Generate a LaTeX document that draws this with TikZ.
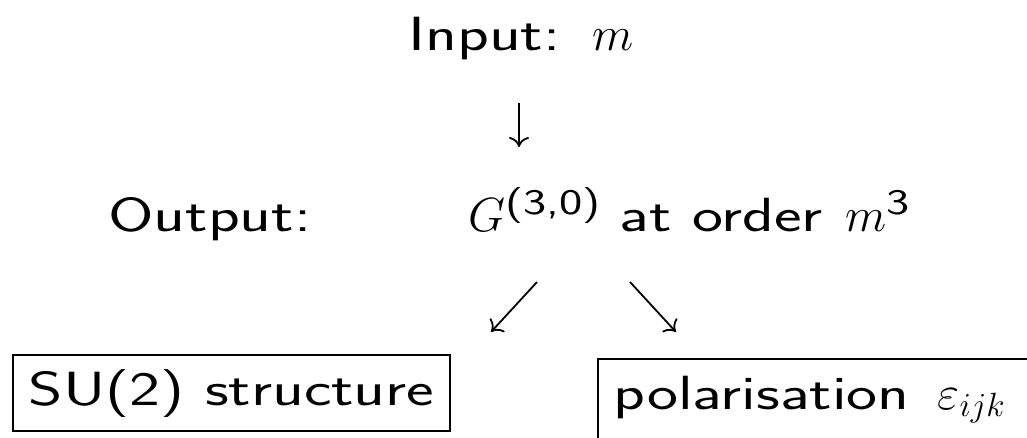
\RequirePackage{fix-cm}
\documentclass[tikz,border=0pt]{standalone}
\usepackage{fontspec}
\newfontfamily\slsf{lmsans17-regular.otf}[FakeStretch=1.37]
\newcommand\supsf[1]{\hbox{\slsf\fontsize{18}{18}\selectfont #1}}
\usetikzlibrary{arrows.meta}
\begin{document}
\begin{tikzpicture}[x=0.5pt,y=-0.5pt,
  lbl/.style={inner sep=0pt, anchor=base west, font=\slsf\fontsize{24}{28}\selectfont},
  boxed/.style={lbl, draw, line width=0.8pt, inner xsep=8pt, inner ysep=0pt},
  arr/.style={line width=0.9pt, -{To[length=5pt,width=10pt]}}]
\useasboundingbox (0,0) rectangle (1027,438);
\clip (0,0) rectangle (1027,438);
\node[lbl] (in) at (408,51) {Input:\hspace{16pt}$m$};
\node[lbl] (out) at (108,232) {Output:};
\node[lbl] (res) at (468,232) {$G^{\supsf{(3,0)}}$\hspace{9pt}at order\hspace{11pt}$m^{\supsf{3}}$};
\node[boxed, text height=25pt, text depth=13pt] (su2) at (12,405) {SU(2) structure};
\node[boxed, text height=25pt, text depth=25pt] (pol) at (597,409) {polarisation\hspace{14pt}$\varepsilon_{ijk}$\kern 14pt};
\coordinate (d1) at (519,103);
\coordinate (d2) at (519,147);
\coordinate (l1) at (537,282);
\coordinate (l2) at (491,332);
\coordinate (r1) at (630,282);
\coordinate (r2) at (676,332);
\draw[arr] (d1) -- (d2);
\draw[arr] (l1) -- (l2);
\draw[arr] (r1) -- (r2);
\end{tikzpicture}
\end{document}
